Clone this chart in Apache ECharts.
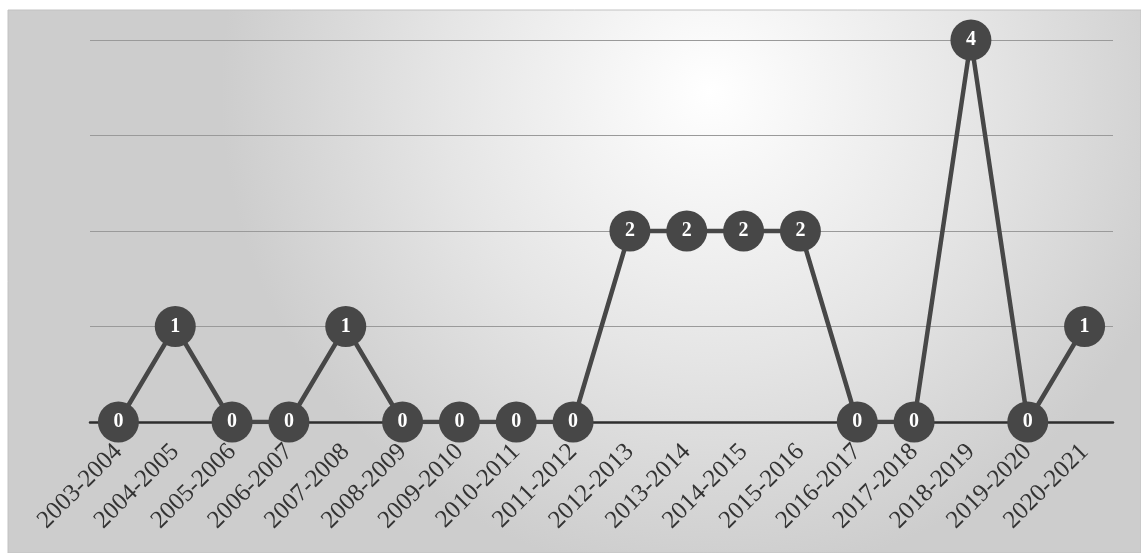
<!DOCTYPE html>
<html>
<head>
<meta charset="utf-8">
<script src="https://cdn.jsdelivr.net/npm/echarts@6/dist/echarts.min.js"></script>
<style>
  html, body { margin: 0; padding: 0; background: #ffffff; }
  #chart { width: 1141px; height: 553px; }
</style>
</head>
<body>
<div id="chart"></div>
<script>
// Academic years on the category axis
const seasons = [
  '2003-2004', '2004-2005', '2005-2006', '2006-2007', '2007-2008', '2008-2009',
  '2009-2010', '2010-2011', '2011-2012', '2012-2013', '2013-2014', '2014-2015',
  '2015-2016', '2016-2017', '2017-2018', '2018-2019', '2019-2020', '2020-2021'
];
// Count per academic year
const counts = [0, 1, 0, 0, 1, 0, 0, 0, 0, 2, 2, 2, 2, 0, 0, 4, 0, 1];

const markColor = '#474747';

const chart = echarts.init(document.getElementById('chart'));
chart.setOption({
  animation: false,
  graphic: [{
    type: 'rect',
    z: -10,
    silent: true,
    shape: { x: 8, y: 10, width: 1133, height: 543 },
    style: {
      fill: {
        type: 'radial', x: 0.62, y: 0.15, r: 0.9,
        colorStops: [
          { offset: 0, color: '#ffffff' },
          { offset: 0.55, color: '#e5e5e5' },
          { offset: 1, color: '#cdcdcd' }
        ]
      },
      stroke: '#c2c2c2',
      lineWidth: 1
    }
  }],
  grid: { left: 90, right: 28, top: 40, bottom: 131 },
  xAxis: {
    type: 'category',
    data: seasons,
    boundaryGap: true,
    axisLine: { show: true, lineStyle: { color: '#2e2e2e', width: 2.5 } },
    axisTick: { show: false },
    axisLabel: {
      rotate: 45,
      interval: 0,
      margin: 26,
      color: '#333333',
      fontFamily: 'Liberation Serif',
      fontSize: 25
    }
  },
  yAxis: {
    type: 'value',
    min: 0,
    max: 4,
    interval: 1,
    axisLabel: { show: false },
    axisLine: { show: false },
    axisTick: { show: false },
    splitLine: { lineStyle: { color: '#9a9a9a', width: 1.2 } }
  },
  series: [{
    type: 'line',
    data: counts,
    symbol: 'circle',
    symbolSize: 41,
    z: 5,
    lineStyle: { color: markColor, width: 4.5 },
    itemStyle: { color: markColor },
    label: {
      show: true,
      position: 'inside',
      color: '#ffffff',
      fontFamily: 'Liberation Serif',
      fontWeight: 'bold',
      fontSize: 20
    }
  }]
});
</script>
</body>
</html>
